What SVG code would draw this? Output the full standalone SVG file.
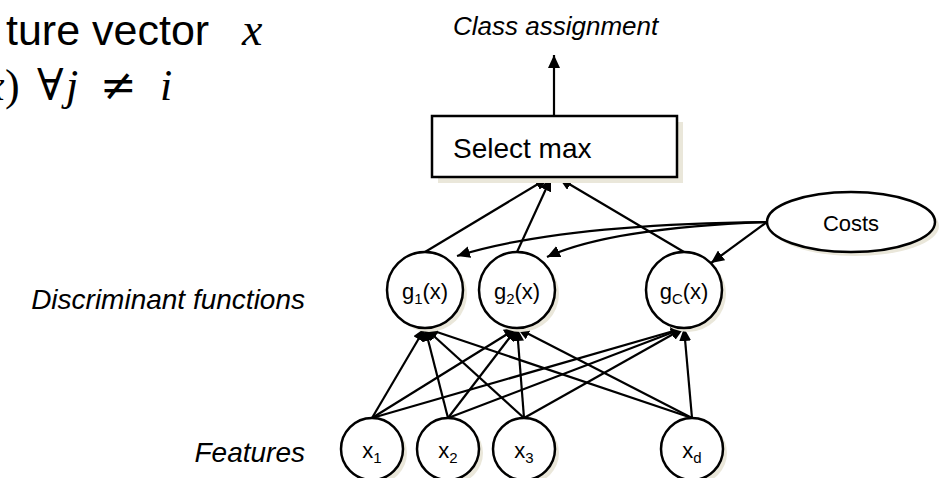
<svg xmlns="http://www.w3.org/2000/svg" width="941" height="478" viewBox="0 0 941 478">
<style>
.shape{fill:#ffffff;stroke:#000000;stroke-width:2.5}
.shadow{fill:#EAE7DA;stroke:none}
.lbl{font-family:"Liberation Sans",Arial,sans-serif;fill:#000}
.it{font-family:"Liberation Sans",Arial,sans-serif;font-style:italic;fill:#000}
.math{font-family:"Liberation Serif","DejaVu Serif",serif;fill:#000}
.edge{stroke:#000;stroke-width:2.2;fill:none;marker-end:url(#ah)}
</style>
<defs>
<marker id="ah" markerUnits="userSpaceOnUse" markerWidth="14" markerHeight="12" refX="13" refY="6" orient="auto">
<path d="M0,0 L13,6 L0,12 Z" fill="#000"/>
</marker>
</defs>
<rect width="941" height="478" fill="#ffffff"/>
<g id="title">
<text class="lbl" x="6" y="45" font-size="43">ture vector <tspan class="math" x="242" font-style="italic" font-size="46">x</tspan></text>
<text class="math" y="100" font-size="44"><tspan x="-15" font-style="italic">x</tspan><tspan x="5">)</tspan><tspan x="37">∀</tspan><tspan x="66" font-style="italic">j</tspan><tspan x="100" font-family="DejaVu Serif">≠</tspan><tspan x="160" font-style="italic">i</tspan></text>
</g>
<g id="labels">
<text class="it" x="453" y="35" font-size="26">Class assignment</text>
<text class="it" x="305" y="309" font-size="28" text-anchor="end">Discriminant functions</text>
<text class="it" x="305" y="462" font-size="28" text-anchor="end">Features</text>
</g>
<g id="connectors">
<line class="edge" x1="554" y1="116" x2="554" y2="55"/>
<line class="edge" x1="425" y1="252" x2="548" y2="178"/>
<line class="edge" x1="517" y1="252" x2="551" y2="178"/>
<line class="edge" x1="684" y1="252" x2="559" y2="178"/>
<path class="edge" d="M767 222 Q560 224 457 256"/>
<path class="edge" d="M767 222 Q610 228 547 257"/>
<line class="edge" x1="767" y1="222" x2="711" y2="263"/>
<line class="edge" x1="372" y1="418" x2="425" y2="328"/>
<line class="edge" x1="372" y1="418" x2="517" y2="328"/>
<line class="edge" x1="372" y1="418" x2="684" y2="328"/>
<line class="edge" x1="448" y1="418" x2="425" y2="328"/>
<line class="edge" x1="448" y1="418" x2="517" y2="328"/>
<line class="edge" x1="448" y1="418" x2="684" y2="328"/>
<line class="edge" x1="524" y1="418" x2="425" y2="328"/>
<line class="edge" x1="524" y1="418" x2="517" y2="328"/>
<line class="edge" x1="524" y1="418" x2="684" y2="328"/>
<line class="edge" x1="692" y1="418" x2="425" y2="328"/>
<line class="edge" x1="692" y1="418" x2="517" y2="328"/>
<line class="edge" x1="692" y1="418" x2="684" y2="328"/>
</g>
<g id="selectmax">
<rect class="shadow" x="438" y="122" width="245" height="61"/>
<rect class="shape" x="432" y="116" width="245" height="61"/>
<text class="lbl" x="453" y="158" font-size="28">Select max</text>
</g>
<g id="costs">
<ellipse class="shadow" cx="855" cy="226" rx="84" ry="30"/>
<ellipse class="shape" cx="851" cy="222" rx="84" ry="30"/>
<text class="lbl" x="851" y="231" font-size="22" text-anchor="middle">Costs</text>
</g>
<g id="g1">
<circle class="shadow" cx="429" cy="294" r="38"/>
<circle class="shape" cx="425" cy="290" r="38"/>
<text class="lbl" x="425" y="299" font-size="22" text-anchor="middle">g<tspan font-size="15" dy="5">1</tspan><tspan dy="-5">(x)</tspan></text>
</g>
<g id="g2">
<circle class="shadow" cx="521" cy="294" r="38"/>
<circle class="shape" cx="517" cy="290" r="38"/>
<text class="lbl" x="517" y="299" font-size="22" text-anchor="middle">g<tspan font-size="15" dy="5">2</tspan><tspan dy="-5">(x)</tspan></text>
</g>
<g id="gC">
<circle class="shadow" cx="688" cy="294" r="38"/>
<circle class="shape" cx="684" cy="290" r="38"/>
<text class="lbl" x="684" y="299" font-size="22" text-anchor="middle">g<tspan font-size="15" dy="5">C</tspan><tspan dy="-5">(x)</tspan></text>
</g>
<g id="x1">
<circle class="shadow" cx="376" cy="453" r="31"/>
<circle class="shape" cx="372" cy="449" r="31"/>
<text class="lbl" x="372" y="458" font-size="22" text-anchor="middle">x<tspan font-size="15" dy="5">1</tspan></text>
</g>
<g id="x2">
<circle class="shadow" cx="452" cy="453" r="31"/>
<circle class="shape" cx="448" cy="449" r="31"/>
<text class="lbl" x="448" y="458" font-size="22" text-anchor="middle">x<tspan font-size="15" dy="5">2</tspan></text>
</g>
<g id="x3">
<circle class="shadow" cx="528" cy="453" r="31"/>
<circle class="shape" cx="524" cy="449" r="31"/>
<text class="lbl" x="524" y="458" font-size="22" text-anchor="middle">x<tspan font-size="15" dy="5">3</tspan></text>
</g>
<g id="xd">
<circle class="shadow" cx="696" cy="453" r="31"/>
<circle class="shape" cx="692" cy="449" r="31"/>
<text class="lbl" x="692" y="458" font-size="22" text-anchor="middle">x<tspan font-size="15" dy="5">d</tspan></text>
</g>
</svg>
